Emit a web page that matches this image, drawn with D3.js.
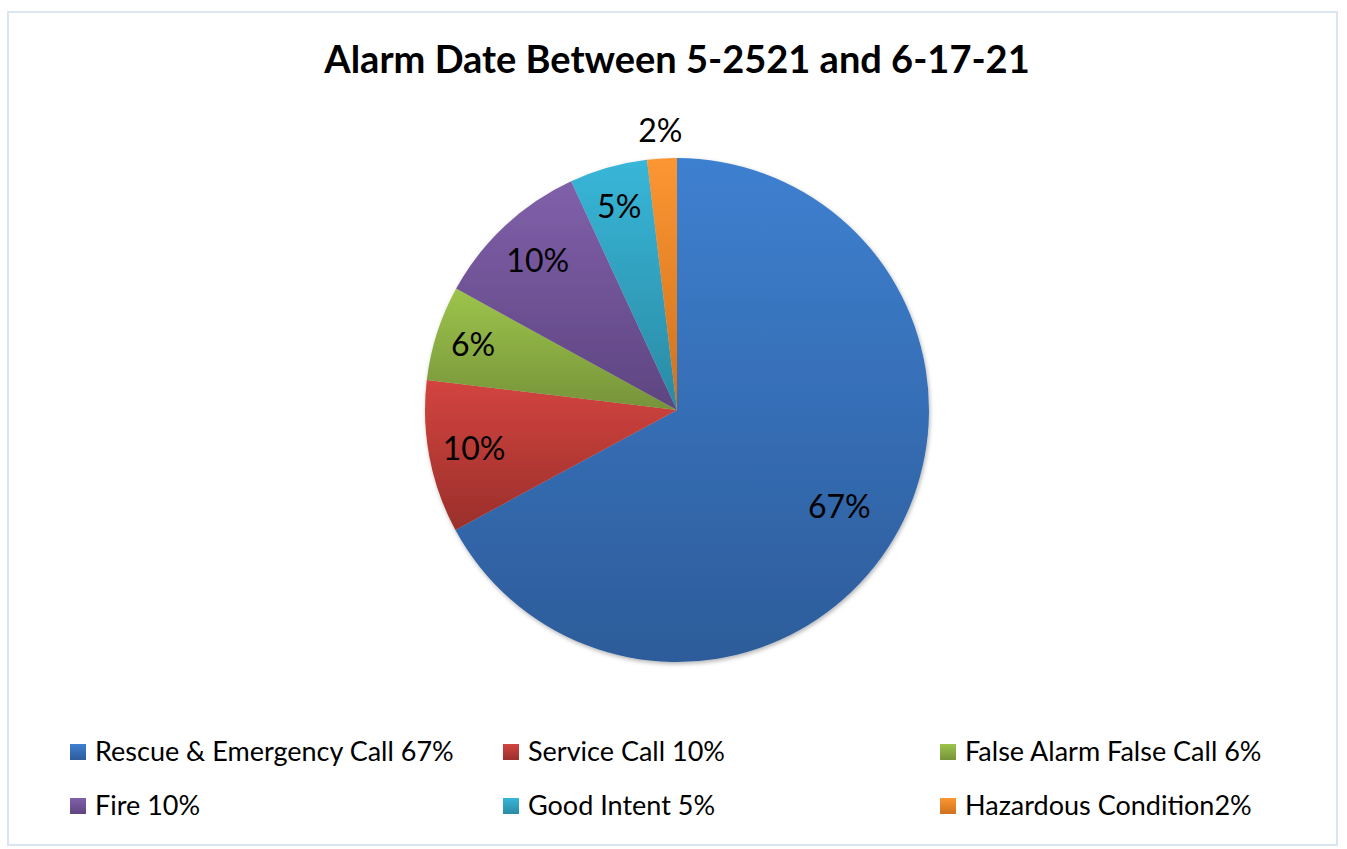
<!DOCTYPE html>
<html>
<head>
<meta charset="utf-8">
<script src="https://cdn.jsdelivr.net/npm/d3@7"></script>
<style>
  body { margin: 0; background: #fff; }
  svg { display: block; font-family: Lato, "Open Sans", sans-serif; }
</style>
</head>
<body>
<div class="visuals"></div>
<script>
var categories = ['Rescue & Emergency Call 67%', 'Service Call 10%', 'False Alarm False Call 6%',
                  'Fire 10%', 'Good Intent 5%', 'Hazardous Condition2%'];
var values = [67.1, 9.8, 6.1, 10.1, 5.0, 1.9];
var labels = ['67%', '10%', '6%', '10%', '5%', '2%'];
var topColors = ['#3e80d0', '#d3443f', '#9dc44b', '#8060aa', '#38b6d8', '#fc9632'];
var bottomColors = ['#2d5c9a', '#9a2f2b', '#76933a', '#5e4581', '#2a8aa4', '#cf711e'];

var width = 1347, height = 849;
var cx = 677, cy = 410, radius = 252;

var svg = d3.select('.visuals').append('svg')
  .attr('width', width)
  .attr('height', height);

var defs = svg.append('defs');

topColors.forEach(function(c, i){
  var g = defs.append('linearGradient')
    .attr('id', 'grad' + i)
    .attr('x1', 0).attr('y1', 0).attr('x2', 0).attr('y2', 1);
  g.append('stop').attr('offset', '0%').attr('stop-color', c);
  g.append('stop').attr('offset', '100%').attr('stop-color', bottomColors[i]);
});

var shadow = defs.append('filter').attr('id', 'shadow')
  .attr('x', '-10%').attr('y', '-10%').attr('width', '120%').attr('height', '120%');
shadow.append('feDropShadow')
  .attr('dx', 1).attr('dy', 2).attr('stdDeviation', 2)
  .attr('flood-color', '#000').attr('flood-opacity', 0.3);

// chart frame
svg.append('rect')
  .attr('x', 8).attr('y', 12)
  .attr('width', 1329).attr('height', 833)
  .style('fill', 'white')
  .style('stroke', '#dbe5f1')
  .style('stroke-width', 2);

svg.append('text')
  .text('Alarm Date Between 5-2521 and 6-17-21')
  .attr('x', cx)
  .attr('y', 73)
  .attr('text-anchor', 'middle')
  .style('font-size', '38px')
  .style('font-weight', 'bold')
  .style('fill', '#000');

var pie = d3.pie().sort(null).value(function(d){ return d; });
var arcs = pie(values);
var arc = d3.arc().innerRadius(0).outerRadius(radius);
// label distance as a share of the radius, per slice (Excel best fit)
var labelPos = [0.75, 0.82, 0.85, 0.81, 0.84, 1.11];

var g = svg.append('g').attr('transform', 'translate(' + cx + ',' + cy + ')');

var pieG = g.append('g').attr('filter', 'url(#shadow)');
pieG.selectAll('path')
  .data(arcs)
  .enter().append('path')
  .attr('d', arc)
  .style('fill', function(d, i){ return 'url(#grad' + i + ')'; })
  .style('stroke', 'none');

g.selectAll('text.lbl')
  .data(arcs)
  .enter().append('text')
  .attr('class', 'lbl')
  .text(function(d, i){ return labels[i]; })
  .attr('transform', function(d, i){
    var r = radius * labelPos[i];
    var p = d3.arc().innerRadius(r).outerRadius(r).centroid(d);
    return 'translate(' + p[0] + ',' + p[1] + ')';
  })
  .attr('text-anchor', 'middle')
  .attr('dy', '0.35em')
  .style('font-size', '32px')
  .style('fill', '#000');

// legend
var colX = [70, 503, 940];
var rowY = [752, 806];
var leg = svg.append('g').selectAll('g')
  .data(categories)
  .enter().append('g')
  .attr('transform', function(d, i){
    return 'translate(' + colX[i % 3] + ',' + rowY[Math.floor(i / 3)] + ')';
  });

leg.append('rect')
  .attr('x', 0).attr('y', -8)
  .attr('width', 16).attr('height', 16)
  .style('fill', function(d, i){ return 'url(#grad' + i + ')'; });

leg.append('text')
  .text(function(d){ return d; })
  .attr('x', 25)
  .attr('dy', '0.35em')
  .style('font-size', '27px')
  .style('fill', '#000');
</script>
</body>
</html>
